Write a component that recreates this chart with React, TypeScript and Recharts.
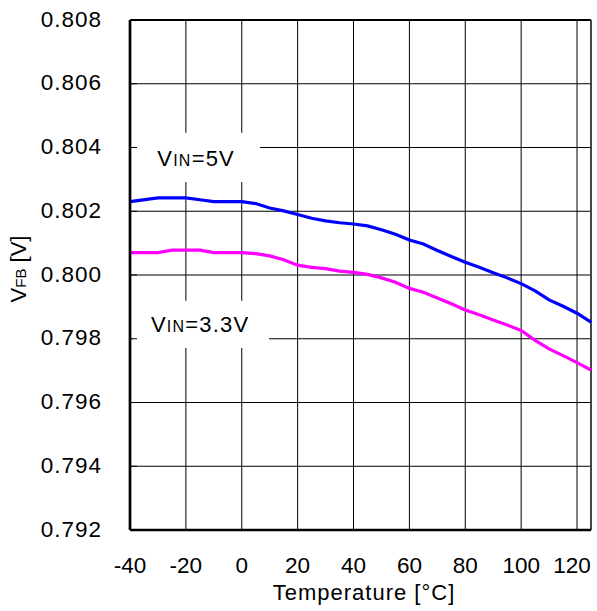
import { LineChart, Line, XAxis, YAxis, CartesianGrid, ReferenceArea, ReferenceLine } from 'recharts';

const temps = [-40, -30, -25, -20, -15, -10, 0, 5, 10, 15, 20, 25, 30, 35, 40, 45, 50, 55, 60, 65, 70, 75, 80, 85, 90, 95, 100, 105, 110, 115, 120, 125];
const vin5 = [0.8023, 0.80242, 0.80242, 0.80242, 0.80236, 0.8023, 0.8023, 0.80224, 0.8021, 0.80201, 0.8019, 0.80178, 0.8017, 0.80164, 0.8016, 0.80154, 0.80142, 0.80128, 0.8011, 0.80097, 0.80077, 0.80058, 0.8004, 0.80024, 0.80007, 0.79991, 0.79973, 0.7995, 0.79922, 0.79902, 0.7988, 0.79852];
const vin33 = [0.8007, 0.8007, 0.80078, 0.80078, 0.80078, 0.8007, 0.8007, 0.80067, 0.8006, 0.80048, 0.80031, 0.80024, 0.8002, 0.80012, 0.80008, 0.80002, 0.79991, 0.79977, 0.79958, 0.79946, 0.79928, 0.7991, 0.7989, 0.79875, 0.79859, 0.79843, 0.79826, 0.79795, 0.79768, 0.79747, 0.79725, 0.79702];

const xTicks = [-40, -20, 0, 20, 40, 60, 80, 100, 120];
const yTicks = [0.792, 0.794, 0.796, 0.798, 0.8, 0.802, 0.804, 0.806, 0.808];

const data = temps.map((t, i) => ({ t, v5: vin5[i], v33: vin33[i] }));

const FONT = '"Liberation Sans", Arial, sans-serif';

const YTick = (props: any) => {
  const { x, y, payload } = props;
  return (
    <g>
      <line x1={130} x2={137} y1={y} y2={y} stroke="#000" strokeWidth={1} />
      <text x={102} y={y + 6.5} textAnchor="end" fontSize={22.5} fontFamily={FONT} letterSpacing={1} fill="#000">
        {payload.value.toFixed(3)}
      </text>
    </g>
  );
};

const XTick = (props: any) => {
  const { x, y, payload } = props;
  const shift = payload.value === 120 ? -5 : 0;
  return (
    <text x={x + shift} y={y + 43} textAnchor="middle" fontSize={22.5} fontFamily={FONT} fill="#000">
      {payload.value}
    </text>
  );
};

const BoxLabel = ({ viewBox, dx, dy, tail }: any) => (
  <text x={viewBox.x + dx} y={viewBox.y + dy} fontFamily={FONT} fill="#000" letterSpacing={1.2}>
    <tspan fontSize={22}>V</tspan>
    <tspan fontSize={16}>IN</tspan>
    <tspan fontSize={22}>{tail}</tspan>
  </text>
);

export default function App() {
  return (
    <div style={{ position: 'absolute', left: 0, top: 0, background: '#fff' }}>
      <LineChart width={597} height={611} data={data} margin={{ top: 20, right: 6, bottom: 0, left: 0 }}>
        <CartesianGrid stroke="#000" strokeWidth={1} strokeOpacity={1} />
        <XAxis
          dataKey="t"
          type="number"
          domain={[-40, 125]}
          ticks={xTicks}
          height={81}
          tickSize={0}
          tickMargin={0}
          tickLine={false}
          axisLine={{ stroke: '#000', strokeWidth: 2.7 }}
          tick={<XTick />}
          label={{
            content: () => (
              <text x={364} y={600} textAnchor="middle" fontSize={22} letterSpacing={1} fontFamily={FONT} fill="#000">
                Temperature [°C]
              </text>
            ),
          }}
        />
        <YAxis
          type="number"
          domain={[0.792, 0.808]}
          ticks={yTicks}
          width={130}
          tickSize={0}
          tickLine={false}
          axisLine={{ stroke: '#000', strokeWidth: 2.7 }}
          tick={<YTick />}
          label={{
            content: () => (
              <text x={26} y={269} textAnchor="middle" transform="rotate(-90, 26, 269)" fontFamily={FONT} fill="#000">
                <tspan fontSize={22}>V</tspan>
                <tspan fontSize={15}>FB</tspan>
                <tspan fontSize={22}> [V]</tspan>
              </text>
            ),
          }}
        />
        <ReferenceLine y={0.808} stroke="#000" strokeWidth={2} />
        <ReferenceLine x={125} stroke="#444" strokeWidth={2} />
        <ReferenceArea
          x1={-38.8}
          x2={6.5}
          y1={0.80292}
          y2={0.80446}
          fill="#fff"
          fillOpacity={1}
          stroke="none"
          label={<BoxLabel dx={24} dy={32.7} tail="=5V" />}
        />
        <ReferenceArea
          x1={-39.2}
          x2={9.75}
          y1={0.79771}
          y2={0.79919}
          fill="#fff"
          fillOpacity={1}
          stroke="none"
          label={<BoxLabel dx={18.7} dy={30.7} tail="=3.3V" />}
        />
        <Line type="linear" dataKey="v5" stroke="#0000ff" strokeWidth={3.2} dot={false} isAnimationActive={false} />
        <Line type="linear" dataKey="v33" stroke="#ff00ff" strokeWidth={3.2} dot={false} isAnimationActive={false} />
      </LineChart>
    </div>
  );
}
